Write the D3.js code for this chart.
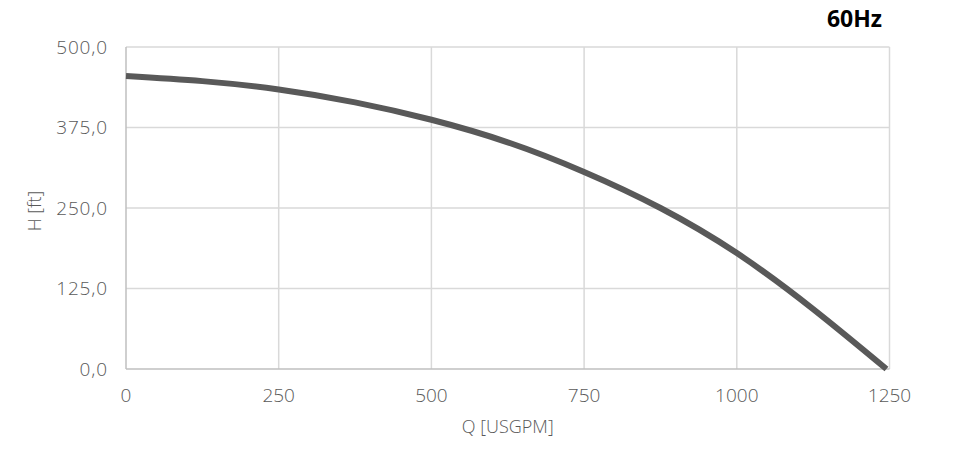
<!DOCTYPE html>
<html>
<head>
<meta charset="utf-8">
<script src="https://cdn.jsdelivr.net/npm/d3@7"></script>
<style>
  html, body { margin: 0; padding: 0; background: #ffffff; }
  svg { display: block; }
</style>
</head>
<body>
<svg id="chart" width="956" height="456"></svg>
<script>
// ---- data ----
const flowQ = [0, 125, 250, 375, 500, 625, 750, 875, 1000, 1125, 1245];
const headH = [455, 447, 434, 414, 387, 352, 306, 250, 180, 93, 0];
const xTicks = [0, 250, 500, 750, 1000, 1250];
const yTicks = [0, 125, 250, 375, 500];
const xTitle = "Q [USGPM]";
const yTitle = "H [ft]";
const chartTag = "60Hz";

// ---- layout ----
const svg = d3.select("#chart");
const pL = 126, pR = 889.5, pT = 47, pB = 369;

const x = d3.scaleLinear().domain([0, 1250]).range([pL, pR]);
const y = d3.scaleLinear().domain([0, 500]).range([pB, pT]);

const tickFont = "'Open Sans', 'Lato', sans-serif";
const grey = "#595959";

// gridlines
svg.append("g")
  .selectAll("line")
  .data(yTicks.filter(d => d !== 0))
  .join("line")
  .attr("x1", pL).attr("x2", pR)
  .attr("y1", d => y(d)).attr("y2", d => y(d))
  .attr("stroke", "#d9d9d9").attr("stroke-width", 1.5);

svg.append("g")
  .selectAll("line")
  .data(xTicks.filter(d => d !== 0))
  .join("line")
  .attr("x1", d => x(d)).attr("x2", d => x(d))
  .attr("y1", pT).attr("y2", pB)
  .attr("stroke", "#d9d9d9").attr("stroke-width", 1.5);

// axes lines
svg.append("line")
  .attr("x1", pL).attr("x2", pL).attr("y1", pT).attr("y2", pB)
  .attr("stroke", "#bfbfbf").attr("stroke-width", 1.5);
svg.append("line")
  .attr("x1", pL).attr("x2", pR).attr("y1", pB).attr("y2", pB)
  .attr("stroke", "#bfbfbf").attr("stroke-width", 1.5);

// y tick labels
const fmtY = d => d3.format(".1f")(d).replace(".", ",");
svg.append("g")
  .selectAll("text")
  .data(yTicks)
  .join("text")
  .attr("x", 107.8)
  .attr("y", d => y(d))
  .attr("dy", "0.35em")
  .attr("text-anchor", "end")
  .attr("font-family", tickFont)
  .attr("font-weight", 300)
  .attr("font-size", 19)
  .attr("letter-spacing", 0.8)
  .attr("fill", grey)
  .text(fmtY);

// x tick labels
svg.append("g")
  .selectAll("text")
  .data(xTicks)
  .join("text")
  .attr("x", d => x(d))
  .attr("y", 402)
  .attr("text-anchor", "middle")
  .attr("font-family", tickFont)
  .attr("font-weight", 300)
  .attr("font-size", 19)
  .attr("fill", grey)
  .text(d => d);

// axis titles
svg.append("text")
  .attr("x", (pL + pR) / 2)
  .attr("y", 433)
  .attr("text-anchor", "middle")
  .attr("font-family", tickFont)
  .attr("font-weight", 300)
  .attr("font-size", 18)
  .attr("fill", grey)
  .text(xTitle);

svg.append("text")
  .attr("transform", `translate(41, ${(pT + pB) / 2 + 3}) rotate(-90)`)
  .attr("text-anchor", "middle")
  .attr("font-family", tickFont)
  .attr("font-weight", 300)
  .attr("font-size", 18)
  .attr("fill", grey)
  .text(yTitle);

// tag
svg.append("text")
  .attr("x", 882)
  .attr("y", 27)
  .attr("text-anchor", "end")
  .attr("font-family", "'Open Sans', 'Liberation Sans', sans-serif")
  .attr("font-weight", 700)
  .attr("font-size", 23)
  .attr("fill", "#000000")
  .text(chartTag);

// curve
const pts = flowQ.map((q, i) => [q, headH[i]]);
const line = d3.line()
  .x(d => x(d[0]))
  .y(d => y(d[1]))
  .curve(d3.curveNatural);

svg.append("path")
  .datum(pts)
  .attr("d", line)
  .attr("fill", "none")
  .attr("stroke", "#595959")
  .attr("stroke-width", 6)
  .attr("stroke-linecap", "butt");
</script>
</body>
</html>
